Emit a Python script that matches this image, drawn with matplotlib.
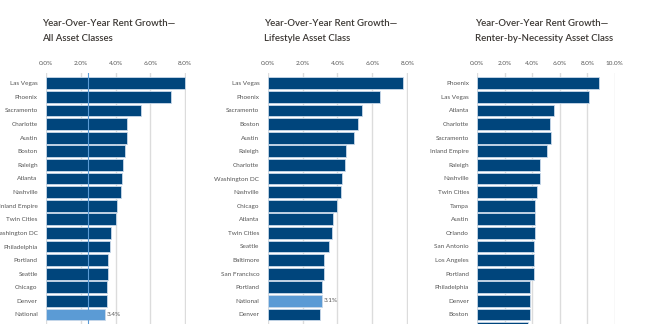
import matplotlib
matplotlib.use("Agg")
import matplotlib.pyplot as plt

W, H = 652, 324
DPI = 100

all_cities = ["Las Vegas", "Phoenix", "Sacramento", "Charlotte", "Austin", "Boston", "Raleigh",
              "Atlanta", "Nashville", "Inland Empire", "Twin Cities", "Washington DC",
              "Philadelphia", "Portland", "Seattle", "Chicago", "Denver", "National"]
all_values = [8.0, 7.17, 5.44, 4.66, 4.66, 4.56, 4.43, 4.39, 4.29, 4.06, 4.02, 3.74,
              3.66, 3.56, 3.56, 3.49, 3.49, 3.4]

life_cities = ["Las Vegas", "Phoenix", "Sacramento", "Boston", "Austin", "Raleigh", "Charlotte",
               "Washington DC", "Nashville", "Chicago", "Atlanta", "Twin Cities", "Seattle",
               "Baltimore", "San Francisco", "Portland", "National", "Denver"]
life_values = [7.78, 6.41, 5.38, 5.15, 4.92, 4.46, 4.42, 4.23, 4.19, 3.96, 3.74, 3.70, 3.51,
               3.24, 3.20, 3.14, 3.1, 3.01]

rbn_cities = ["Phoenix", "Las Vegas", "Atlanta", "Charlotte", "Sacramento", "Inland Empire",
              "Raleigh", "Nashville", "Twin Cities", "Tampa", "Austin", "Orlando", "San Antonio",
              "Los Angeles", "Portland", "Philadelphia", "Denver", "Boston", ""]
rbn_values = [8.87, 8.15, 5.6, 5.31, 5.33, 5.09, 4.56, 4.56, 4.32, 4.22, 4.22, 4.21, 4.15,
              4.10, 4.10, 3.86, 3.86, 3.81, 3.68]

title_line1 = "Year-Over-Year Rent Growth—"
title_line2 = ["All Asset Classes", "Lifestyle Asset Class", "Renter-by-Necessity Asset Class"]

all_ticks = [0, 2, 4, 6, 8]
rbn_ticks = [0, 2, 4, 6, 8, 10]
avg_line_all = 2.4

DARK = "#00457c"
LIGHT = "#5b9bd5"
GRID = "#dcdcdc"
TXT = "#555555"
TITLE = "#3b3733"
FONT = "Lato"

fig = plt.figure(figsize=(W / DPI, H / DPI), dpi=DPI)
fig.patch.set_facecolor("white")

panels = [
    (all_cities, all_values, all_ticks, 46.0, 17.375, 8.05, 42.0, title_line2[0]),
    (life_cities, life_values, all_ticks, 267.7, 17.45, 8.05, 264.0, title_line2[1]),
    (rbn_cities, rbn_values, rbn_ticks, 477.3, 13.75, 10.05, 475.5, title_line2[2]),
]

top_px, bot_px = 73.0, 340.0
row0_px, pitch = 83.3, 13.6

for i, (cities, vals, ticks, x0, ppu, xmax, tx, sub) in enumerate(panels):
    ax = fig.add_axes([x0 / W, 1 - bot_px / H, xmax * ppu / W, (bot_px - top_px) / H])
    n = len(cities)
    ypos = list(range(n))
    colors = [LIGHT if c == "National" else DARK for c in cities]
    ax.barh(ypos, vals, height=0.86, color=colors, edgecolor="#c9d9ea", linewidth=0.6, zorder=2)
    ax.set_ylim((bot_px - row0_px) / pitch, (top_px - row0_px) / pitch)
    ax.set_xlim(0, xmax)
    ax.set_yticks(ypos)
    ax.set_yticklabels(cities, fontsize=4.6, color=TXT, family=FONT)
    ax.xaxis.tick_top()
    ax.set_xticks(ticks)
    ax.set_xticklabels([f"{t:.1f}%" for t in ticks], fontsize=4.6, color=TXT, family=FONT)
    ax.tick_params(axis="both", length=0, pad=5)
    ax.tick_params(axis="y", pad=6)
    ax.grid(axis="x", color=GRID, linewidth=1.0, zorder=0)
    ax.set_axisbelow(True)
    for s in ax.spines.values():
        s.set_visible(False)
    for c, v, y in zip(cities, vals, ypos):
        if c == "National":
            ax.text(v + 2.0 / ppu, y, f"{v:.1f}%", fontsize=4.6, color=TXT, family=FONT,
                    va="center", ha="left")
    if i == 0:
        ax.axvline(avg_line_all, color=LIGHT, linewidth=0.8, zorder=3)
    fig.text(tx / W, 1 - 23.5 / H, title_line1, fontsize=6.9, color=TITLE, family=FONT,
             weight="semibold", ha="left", va="center")
    fig.text(tx / W, 1 - 38.5 / H, sub, fontsize=6.9, color=TITLE, family=FONT,
             weight="semibold", ha="left", va="center")

fig.savefig("out.png", dpi=DPI, facecolor="white")
